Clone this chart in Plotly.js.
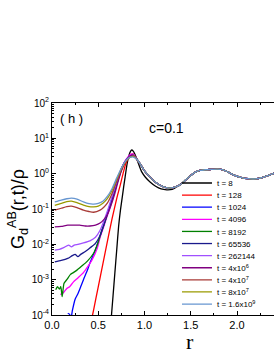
<!DOCTYPE html>
<html><head><meta charset="utf-8">
<script src="https://cdn.plot.ly/plotly-3.0.1.min.js"></script>
<style>html,body{margin:0;padding:0;background:#fff}#chart{width:274px;height:355px}</style>
</head><body><div id="chart"></div>
<script>
// shared large-r tail (all curves overlap there)
const tailR = [0.92,0.96,1.00,1.05,1.10,1.15,1.20,1.26,1.32,1.39,1.45,1.50,1.55,1.60,1.66,1.72,1.79,1.85,1.90,1.96,2.04,2.12,2.20,2.28,2.35,2.41];
const tailG = [2.51,1.78,1.20,0.85,0.63,0.50,0.43,0.39,0.41,0.49,0.68,0.89,1.10,1.23,1.29,1.32,1.35,1.29,1.12,0.93,0.79,0.72,0.71,0.79,0.91,1.05];

// t = 8 (own tail up to r = 1.36)
const r_t8 = [0.64,0.66,0.68,0.70,0.72,0.74,0.76,0.775,0.79,0.81,0.83,0.85,0.865,0.88,0.90,0.935,0.97,1.01,1.06,1.12,1.18,1.24,1.30,1.36];
const g_t8 = [7.9e-5,3.5e-4,1.6e-3,7.1e-3,0.032,0.093,0.22,0.43,0.79,1.78,3.16,4.37,4.68,4.27,3.39,1.91,1.12,0.79,0.58,0.44,0.37,0.35,0.36,0.44];

const r_t128 = [0.43,0.45,0.50,0.55,0.60,0.65,0.70,0.74,0.77,0.80,0.84,0.875];
const g_t128 = [7.9e-5,1.4e-4,6.3e-4,2.8e-3,0.0126,0.054,0.20,0.50,1.05,2.0,3.16,3.63];

const r_t1024 = [0.17,0.19,0.205,0.22,0.25,0.28,0.31,0.34,0.38,0.41,0.45,0.48,0.51,0.54,0.58,0.61,0.65,0.69,0.73,0.77,0.81,0.85,0.88];
const g_t1024 = [1.12e-4,1.05e-4,7.9e-5,1.32e-4,2.8e-4,4.0e-4,6.3e-4,1.0e-3,1.78e-3,2.95e-3,5.2e-3,8.3e-3,0.0141,0.025,0.050,0.093,0.20,0.45,0.95,1.78,2.63,3.16,3.31];

const r_t4096 = [0.09,0.12,0.16,0.19,0.23,0.28,0.34,0.39,0.43,0.49,0.52,0.56,0.60,0.64,0.68,0.72,0.76,0.80,0.84,0.875];
const g_t4096 = [3.8e-4,4.2e-4,5.6e-4,6.3e-4,8.5e-4,1.12e-3,1.58e-3,2.4e-3,3.5e-3,7.9e-3,0.0158,0.032,0.066,0.141,0.32,0.76,1.58,2.51,3.39,3.63];

const r_t8192 = [0.04,0.06,0.08,0.095,0.11,0.13,0.16,0.20,0.23,0.27,0.32,0.38,0.45,0.50,0.53,0.57,0.61,0.65,0.69,0.73,0.77,0.81,0.85,0.88];
const g_t8192 = [5.2e-4,6.3e-4,5.4e-4,6.3e-4,3.3e-4,7.9e-4,1.0e-3,1.41e-3,1.58e-3,1.86e-3,2.4e-3,3.3e-3,5.6e-3,0.0117,0.021,0.042,0.089,0.19,0.42,0.89,1.66,2.51,3.16,3.31];

const r_t65536 = [0.03,0.10,0.17,0.22,0.25,0.28,0.31,0.36,0.41,0.47,0.52,0.56,0.60,0.64,0.68,0.72,0.76,0.80,0.84,0.88];
const g_t65536 = [3.2e-3,3.5e-3,4.0e-3,4.8e-3,5.2e-3,4.5e-3,5.2e-3,6.3e-3,7.9e-3,0.0107,0.0178,0.035,0.076,0.158,0.35,0.79,1.58,2.4,3.09,3.31];

const r_t262144 = [0.03,0.08,0.12,0.18,0.21,0.24,0.28,0.34,0.41,0.47,0.52,0.56,0.60,0.64,0.68,0.72,0.76,0.80,0.84,0.88];
const g_t262144 = [6.9e-3,7.2e-3,7.9e-3,9.5e-3,8.5e-3,9.5e-3,0.0100,0.011,0.0126,0.0158,0.025,0.045,0.089,0.19,0.40,0.83,1.58,2.4,3.02,3.31];

const r_t4e6 = [0.03,0.10,0.17,0.23,0.30,0.36,0.41,0.47,0.52,0.56,0.60,0.64,0.68,0.71,0.75,0.79,0.83,0.87];
const g_t4e6 = [0.031,0.032,0.035,0.035,0.035,0.033,0.033,0.035,0.040,0.050,0.071,0.132,0.28,0.54,1.2,2.09,2.88,3.31];

const r_t4e7 = [0.03,0.10,0.16,0.21,0.27,0.34,0.40,0.45,0.52,0.56,0.60,0.64,0.67,0.71,0.75,0.80,0.84,0.88];
const g_t4e7 = [0.093,0.105,0.117,0.120,0.110,0.093,0.085,0.081,0.093,0.112,0.148,0.24,0.38,0.72,1.35,2.24,2.88,3.16];

const r_t8e7 = [0.03,0.10,0.16,0.21,0.27,0.34,0.40,0.45,0.50,0.55,0.60,0.65,0.70,0.75,0.80,0.84,0.88];
const g_t8e7 = [0.126,0.145,0.162,0.166,0.151,0.129,0.117,0.115,0.120,0.145,0.20,0.34,0.69,1.38,2.29,2.88,3.09];

const r_t16e9 = [0.03,0.10,0.16,0.21,0.27,0.34,0.40,0.45,0.50,0.55,0.60,0.65,0.70,0.75,0.80,0.84,0.88];
const g_t16e9 = [0.158,0.178,0.195,0.204,0.191,0.158,0.141,0.138,0.145,0.166,0.23,0.38,0.76,1.45,2.34,2.88,2.95];

const seriesNames = ['t = 8','t = 128','t = 1024','t = 4096','t = 8192','t = 65536','t = 262144',
  't = 4x10<sup>6</sup>','t = 4x10<sup>7</sup>','t = 8x10<sup>7</sup>','t = 1.6x10<sup>9</sup>'];
const seriesR = [r_t8,r_t128,r_t1024,r_t4096,r_t8192,r_t65536,r_t262144,r_t4e6,r_t4e7,r_t8e7,r_t16e9];
const seriesG = [g_t8,g_t128,g_t1024,g_t4096,g_t8192,g_t65536,g_t262144,g_t4e6,g_t4e7,g_t8e7,g_t16e9];
const seriesColors = ['#000000','#ff0000','#0000ff','#ff00ff','#008000','#1a1a8c','#a050ff','#800080','#a83a36','#9a9a00','#6796d0'];

const yTickVals = [1e-4,1e-3,1e-2,1e-1,1e0,1e1,1e2];
const yTickText = ['10<sup>-4</sup>','10<sup>-3</sup>','10<sup>-2</sup>','10<sup>-1</sup>','10<sup>0</sup>','10<sup>1</sup>','10<sup>2</sup>'];

const yMinor = [];
for (let k = -4; k < 2; k++) for (let m = 2; m <= 9; m++) yMinor.push(m * Math.pow(10, k));

const traces = seriesR.map((r, i) => {
  let x, y;
  if (i === 0) {
    const keep = tailR.map((v, j) => j).filter(j => tailR[j] >= 1.45);
    x = r.concat(keep.map(j => tailR[j]));
    y = seriesG[i].concat(keep.map(j => tailG[j]));
  } else {
    x = r.concat(tailR);
    y = seriesG[i].concat(tailG);
  }
  return {
    x: x, y: y, type: 'scatter', mode: 'lines', name: seriesNames[i],
    line: {color: seriesColors[i], width: 1.3, shape: 'spline', smoothing: 0.6},
    legend: i === 0 ? 'legend' : 'legend' + (i + 1),
    hoverinfo: 'skip'
  };
});

const layout = {
  width: 274, height: 355,
  margin: {l: 52, r: 0, t: 103, b: 40},
  paper_bgcolor: '#fff', plot_bgcolor: '#fff',
  font: {family: 'Arial, Liberation Sans, sans-serif', color: '#000'},
  showlegend: true,
  xaxis: {
    range: [0, 2.4], tick0: 0, dtick: 0.5, tickformat: '.1f',
    ticks: 'inside', ticklen: 4, tickwidth: 1, tickcolor: '#000',
    showline: true, linecolor: '#000', linewidth: 1, mirror: 'ticks',
    showgrid: false, zeroline: false,
    tickfont: {size: 11, family: 'Arial, Liberation Sans, sans-serif'},
    minor: {dtick: 0.25, tick0: 0, ticks: 'inside', ticklen: 2, tickcolor: '#000', showgrid: false}
  },
  yaxis: {
    type: 'log', range: [-4, 2],
    tickmode: 'array', tickvals: yTickVals, ticktext: yTickText,
    ticks: 'inside', ticklen: 4, tickwidth: 1, tickcolor: '#000',
    showline: true, linecolor: '#000', linewidth: 1,
    showgrid: false, zeroline: false,
    tickfont: {size: 10, family: 'Arial, Liberation Sans, sans-serif'},
    minor: {tickmode: 'array', tickvals: yMinor, ticks: 'inside', ticklen: 2, tickcolor: '#000', showgrid: false},
    automargin: false,
    title: {text: 'G<sub>d</sub><sup>AB</sup>(r,t)/ρ', font: {size: 18, family: 'Arial, Liberation Sans, sans-serif'}, standoff: 2}
  },
  annotations: [
    {text: '( h )', xref: 'paper', yref: 'paper', x: 0.027, y: 0.929, xanchor: 'left', yanchor: 'middle', showarrow: false, font: {size: 13}},
    {text: 'c=0.1', xref: 'paper', yref: 'paper', x: 0.514, y: 0.882, xanchor: 'center', yanchor: 'middle', showarrow: false, font: {size: 14}},
    {text: 'r', xref: 'paper', yref: 'paper', x: 0.622, y: -0.123, xanchor: 'center', yanchor: 'middle', showarrow: false, font: {size: 22, family: 'Liberation Serif, Times New Roman, serif'}}
  ]
};

const legTop = 0.6226, legStep = 0.0571;
for (let i = 0; i < seriesNames.length; i++) {
  const key = i === 0 ? 'legend' : 'legend' + (i + 1);
  layout[key] = {
    x: 0.563, xanchor: 'left', y: legTop - i * legStep, yanchor: 'middle',
    bgcolor: 'rgba(0,0,0,0)', borderwidth: 0,
    font: {size: 8, family: 'Arial, Liberation Sans, sans-serif', color: '#000'},
    itemclick: false, itemdoubleclick: false
  };
}

Plotly.newPlot('chart', traces, layout, {staticPlot: true, displayModeBar: false});
</script></body></html>
